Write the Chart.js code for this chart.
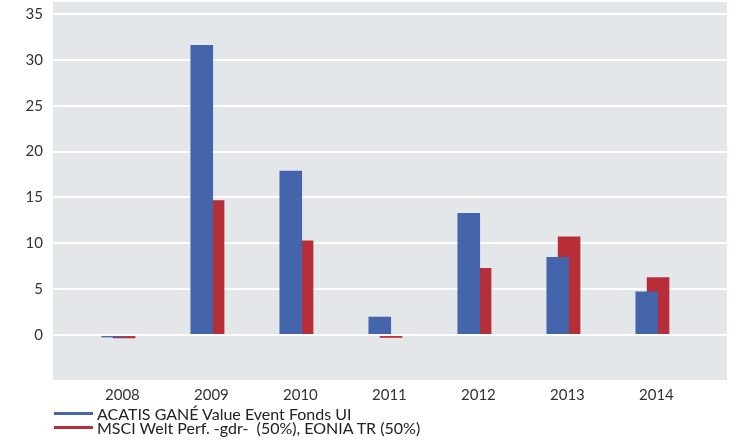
<!DOCTYPE html>
<html>
<head>
<meta charset="utf-8">
<script src="https://cdn.jsdelivr.net/npm/chart.js@4.4.1/dist/chart.umd.min.js"></script>
<style>
  html, body { margin: 0; padding: 0; background: #ffffff; }
  #wrap { position: relative; width: 742px; height: 442px; }
  #legend { position: absolute; left: 54px; top: 406px; font-family: Lato, "Open Sans", sans-serif; font-size: 16px; color: #222; }
  .item { display: flex; align-items: center; height: 14.5px; white-space: pre; }
  .swatch { width: 39px; height: 3px; margin-right: 4px; }
</style>
</head>
<body>
<div id="wrap">
  <canvas id="c" width="742" height="442"></canvas>
  <div id="legend"></div>
</div>
<script>
const years = ['2008', '2009', '2010', '2011', '2012', '2013', '2014'];
const fundValues = [-0.25, 31.6, 17.9, 2.0, 13.3, 8.5, 4.75];
const benchValues = [-0.35, 14.7, 10.3, -0.3, 7.3, 10.75, 6.3];
const yTickValues = [0, 5, 10, 15, 20, 25, 30, 35];
const seriesNames = ['ACATIS GANÉ Value Event Fonds UI', 'MSCI Welt Perf. -gdr-  (50%), EONIA TR (50%)'];
const seriesColors = ['#4465AB', '#B72E39'];

const bgPlugin = {
  id: 'plotBg',
  beforeDraw(chart) {
    const { ctx, chartArea: a } = chart;
    ctx.save();
    ctx.fillStyle = '#E4E7EA';
    ctx.fillRect(a.left, a.top, a.right - a.left, a.bottom - a.top);
    ctx.restore();
  }
};

const font = { family: 'Lato, "Open Sans", sans-serif', size: 15 };
const noPad = s => { s.paddingTop = 0; s.paddingBottom = 0; s.paddingLeft = 0; s.paddingRight = 0; };

new Chart(document.getElementById('c'), {
  type: 'bar',
  data: {
    datasets: [
      { label: seriesNames[0], data: fundValues.map((v, i) => ({ x: i, y: v })), backgroundColor: seriesColors[0], borderWidth: 0 },
      { label: seriesNames[1], data: benchValues.map((v, i) => ({ x: i, y: v })), backgroundColor: seriesColors[1], borderWidth: 0 }
    ]
  },
  options: {
    responsive: false,
    animation: false,
    layout: { padding: { top: 2, right: 15, left: 0, bottom: 0 } },
    datasets: { bar: { categoryPercentage: 0.254, barPercentage: 2 } },
    plugins: { legend: { display: false }, tooltip: { enabled: false } },
    scales: {
      x: {
        type: 'linear',
        offset: false,
        min: -0.735,
        max: 6.838,
        afterBuildTicks: s => { s.ticks = years.map((_, i) => ({ value: i })); },
        afterFit: s => { s.height = 62; noPad(s); },
        grid: { display: false, drawTicks: false, offset: false },
        border: { display: false },
        ticks: { callback: v => years[v], font, color: '#333', padding: 6, labelOffset: 4, maxRotation: 0 }
      },
      y: {
        min: -4.9,
        max: 36.3,
        afterBuildTicks: s => { s.ticks = yTickValues.map(v => ({ value: v })); },
        afterFit: s => { s.width = 53; noPad(s); },
        grid: { color: '#FFFFFF', lineWidth: 2, drawTicks: false },
        border: { display: false },
        ticks: { font, color: '#333', padding: 10 }
      }
    }
  },
  plugins: [bgPlugin]
});

const legend = document.getElementById('legend');
seriesNames.forEach((name, i) => {
  const row = document.createElement('div');
  row.className = 'item';
  const sw = document.createElement('span');
  sw.className = 'swatch';
  sw.style.background = seriesColors[i];
  const t = document.createElement('span');
  t.textContent = name;
  row.appendChild(sw);
  row.appendChild(t);
  legend.appendChild(row);
});
</script>
</body>
</html>
